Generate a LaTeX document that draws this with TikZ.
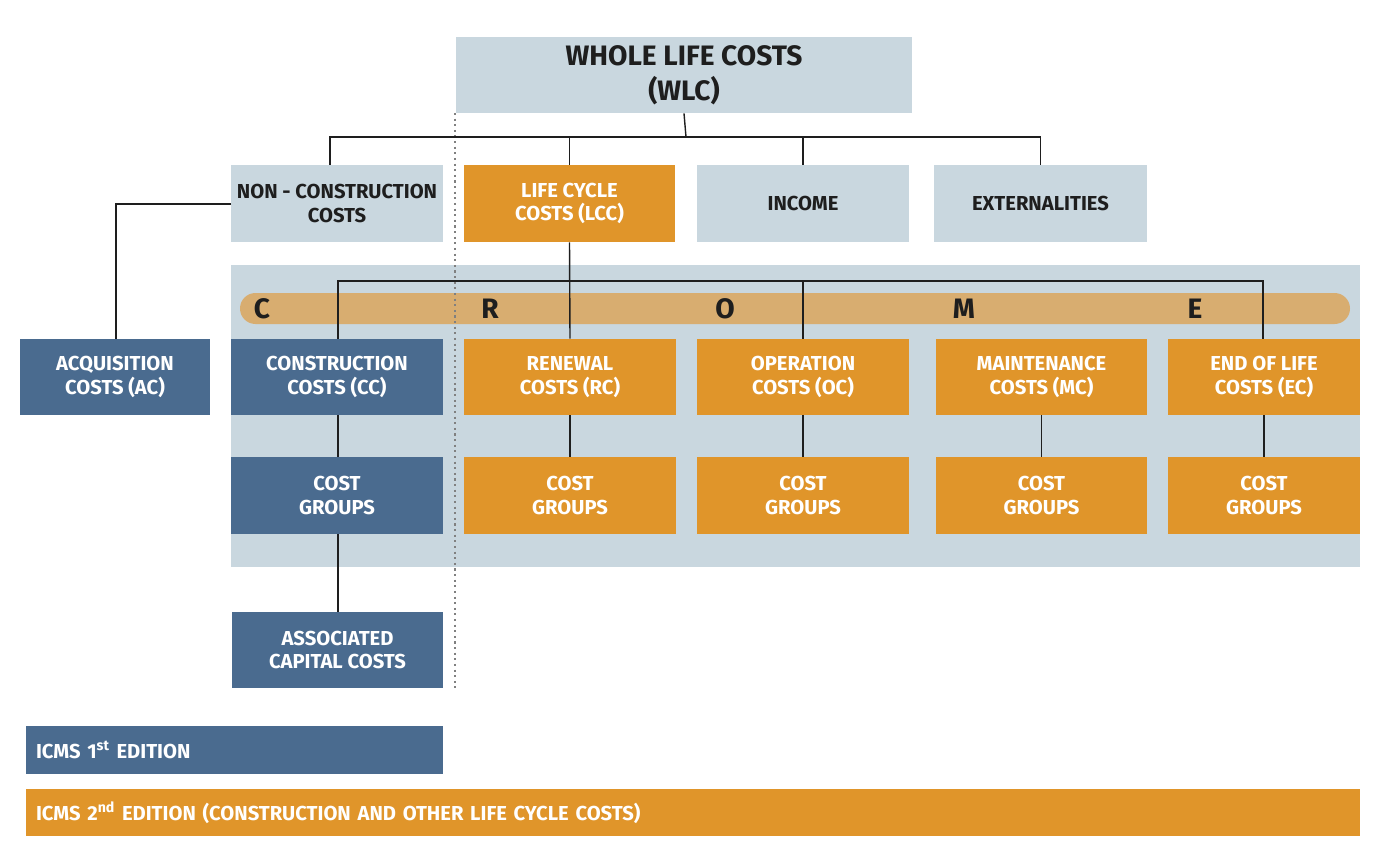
\documentclass[tikz,border=0pt]{standalone}
\usepackage{fontspec}
\setmainfont{Fira Sans}
\definecolor{lb}{HTML}{C9D7DF}
\definecolor{pn}{HTML}{C9D7DF}
\definecolor{og}{HTML}{E0952A}
\definecolor{db}{HTML}{4A6B8F}
\definecolor{br}{HTML}{D8AD70}
\definecolor{tx}{HTML}{1E1E1E}
\tikzset{
 bx/.style={inner sep=0pt, align=center, font=\fontsize{11.5}{13.5}\selectfont\bfseries},
 lbx/.style={bx, fill=lb, text=tx},
 obx/.style={bx, fill=og, text=white},
 dbx/.style={bx, fill=db, text=white},
 ln/.style={draw=tx, line width=0.8pt},
 let/.style={font=\fontsize{16}{16}\selectfont\bfseries, text=tx}
}
\newcommand{\bx}[7]{\node[#6, minimum width={(#4-#2)*0.02cm}, minimum height={(#5-#3)*0.02cm}] (#1) at ({(#2+#4)/2}, {(#3+#5)/2}) {#7};}
\begin{document}
\begin{tikzpicture}[x=0.02cm,y=-0.02cm]
\useasboundingbox (0,0) rectangle (1379,868);
\fill[pn] (231,265) rectangle (1360,567);
\fill[br, rounded corners=0.31cm] (240,293) rectangle (1350,324);
\node[let] (lC) at (262,309) {C};
\node[let] (lR) at (490,309) {R};
\node[let] (lO) at (725,309) {O};
\node[let] (lM) at (964,309) {M};
\node[let] (lE) at (1195,309) {E};
\bx{wlc}{456}{37}{912}{113}{lbx,font=\fontsize{16}{20}\selectfont\bfseries}{WHOLE LIFE COSTS\\(WLC)}
\bx{ncc}{231}{165}{443}{242}{lbx}{NON - CONSTRUCTION\\COSTS}
\bx{lcc}{464}{165}{675}{242}{obx}{LIFE CYCLE\\COSTS (LCC)}
\bx{inc}{697}{165}{909}{242}{lbx}{INCOME}
\bx{ext}{934}{165}{1147}{242}{lbx}{EXTERNALITIES}
\bx{ac}{20}{339}{210}{415}{dbx}{ACQUISITION\\COSTS (AC)}
\bx{cc}{231}{339}{443}{415}{dbx}{CONSTRUCTION\\COSTS (CC)}
\bx{rc}{464}{339}{676}{415}{obx}{RENEWAL\\COSTS (RC)}
\bx{oc}{697}{339}{909}{415}{obx}{OPERATION\\COSTS (OC)}
\bx{mc}{936}{339}{1147}{415}{obx}{MAINTENANCE\\COSTS (MC)}
\bx{ec}{1168}{339}{1360}{415}{obx}{END OF LIFE\\COSTS (EC)}
\bx{cg1}{231}{457}{443}{534}{dbx}{COST\\GROUPS}
\bx{cg2}{464}{457}{676}{534}{obx}{COST\\GROUPS}
\bx{cg3}{697}{457}{909}{534}{obx}{COST\\GROUPS}
\bx{cg4}{936}{457}{1147}{534}{obx}{COST\\GROUPS}
\bx{cg5}{1168}{457}{1360}{534}{obx}{COST\\GROUPS}
\bx{acc}{232}{612}{443}{688}{dbx}{ASSOCIATED\\CAPITAL COSTS}
\node[dbx, minimum width={417*0.02cm}, minimum height={48*0.02cm}, text width={397*0.02cm}, align=left] (e1) at (234.5,750) {ICMS 1\textsuperscript{st} EDITION};
\node[obx, minimum width={1334*0.02cm}, minimum height={47*0.02cm}, text width={1314*0.02cm}, align=left] (e2) at (693,812.5) {ICMS 2\textsuperscript{nd} EDITION (CONSTRUCTION AND OTHER LIFE CYCLE COSTS)};
\draw[dotted, line width=1.2pt, gray] (455,113) -- (455,688);
% connectors
\coordinate (j1) at (686,137);
\coordinate (ja) at (330,137);
\coordinate (nl) at (231,204);
\coordinate (acn) at (116,339);
\draw[ln] (wlc.south) -- (j1);
\draw[ln] (ncc.north -| ja) -- (ja) -- (ext.north |- j1) -- (ext.north);
\draw[ln] (lcc.north) -- (lcc.north |- j1);
\draw[ln] (inc.north) -- (inc.north |- j1);
\draw[ln] (nl) -| (acn);
\coordinate (jl) at (338,281);
\coordinate (jr) at (1263,281);
\coordinate (jo) at (803,281);
\draw[ln] (lcc.south) -- (rc.north);
\draw[ln] (cc.north -| jl) -- (jl) -- (jr) -- (ec.north -| jr);
\draw[ln] (oc.north -| jo) -- (jo);
\draw[ln] (cc.south -| jl) -- (cg1.north -| jl);
\draw[ln] (rc.south) -- (cg2.north);
\draw[ln] (oc.south) -- (cg3.north);
\draw[ln] (mc.south) -- (cg4.north);
\draw[ln] (ec.south) -- (cg5.north);
\draw[ln] (cg1.south -| jl) -- (acc.north -| jl);
\end{tikzpicture}
\end{document}
